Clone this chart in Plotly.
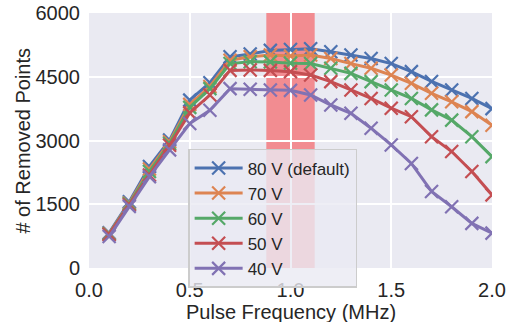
import plotly.graph_objects as go

freq = [0.1, 0.2, 0.3, 0.4, 0.5, 0.6, 0.7, 0.8, 0.9, 1.0,
        1.1, 1.2, 1.3, 1.4, 1.5, 1.6, 1.7, 1.8, 1.9, 2.0]

v80 = [830, 1560, 2390, 3010, 3950, 4360, 4970, 5035, 5120, 5140,
       5160, 5090, 5010, 4930, 4810, 4620, 4390, 4190, 3990, 3750]
v70 = [810, 1530, 2330, 2970, 3850, 4270, 4890, 4970, 5010, 4990,
       5010, 4930, 4810, 4700, 4540, 4345, 4110, 3910, 3680, 3360]
v60 = [800, 1510, 2270, 2930, 3780, 4220, 4810, 4855, 4850, 4820,
       4810, 4700, 4580, 4385, 4190, 3990, 3720, 3480, 3090, 2620]
v50 = [790, 1490, 2190, 2890, 3650, 4070, 4650, 4660, 4650, 4620,
       4540, 4385, 4190, 3990, 3760, 3560, 3090, 2740, 2270, 1720]
v40 = [740, 1450, 2150, 2780, 3400, 3710, 4220, 4205, 4190, 4180,
       4070, 3835, 3640, 3290, 2895, 2460, 1800, 1440, 1050, 820]

series_names = ["80 V (default)", "70 V", "60 V", "50 V", "40 V"]
series_values = [v80, v70, v60, v50, v40]
colors = ["#4C72B0", "#DD8452", "#55A868", "#C44E52", "#8172B3"]

band = [0.88, 1.12]
x_ticks = [0.0, 0.5, 1.0, 1.5, 2.0]
y_ticks = [0, 1500, 3000, 4500, 6000]
x_title = "Pulse Frequency (MHz)"
y_title = "# of Removed Points"

fig = go.Figure()
for name, vals, col in zip(series_names, series_values, colors):
    fig.add_trace(go.Scatter(
        x=freq, y=vals, name=name, mode="lines+markers",
        line=dict(color=col, width=3),
        marker=dict(symbol="x-thin", size=13, color=col,
                    line=dict(color=col, width=2.2)),
    ))

fig.add_shape(type="rect", xref="x", yref="paper", x0=band[0], x1=band[1],
              y0=0, y1=1, fillcolor="rgba(255,0,0,0.4)", line_width=0,
              layer="between")

font_family = "Liberation Sans, Arial, sans-serif"
fig.update_layout(
    width=519, height=322,
    margin=dict(l=89, r=27, t=13, b=54, autoexpand=False),
    paper_bgcolor="white", plot_bgcolor="#EAEAF2",
    font=dict(family=font_family, size=20, color="#262626"),
    showlegend=True,
    legend=dict(x=0.246, y=0.467, xanchor="left", yanchor="top",
                bgcolor="rgba(234,234,242,0.8)", bordercolor="#CCCCCC",
                borderwidth=1.5, font=dict(size=17), tracegroupgap=0,
                itemwidth=48),
    annotations=[
        dict(text=x_title, xref="paper", yref="paper", x=0.5, y=-0.172,
             xanchor="center", yanchor="middle", showarrow=False,
             font=dict(size=20)),
        dict(text=y_title, xref="paper", yref="paper", x=-0.166, y=0.5,
             xanchor="center", yanchor="middle", showarrow=False,
             textangle=-90, font=dict(size=20)),
    ],
)
fig.update_xaxes(range=[0, 2], tickvals=x_ticks, tickformat=".1f",
                 showgrid=True, gridcolor="white", gridwidth=2,
                 zeroline=False, showline=False, ticks="",
                 automargin=False, ticklabelstandoff=8)
fig.update_yaxes(range=[0, 6000], tickvals=y_ticks,
                 showgrid=True, gridcolor="white", gridwidth=2,
                 zeroline=False, showline=False, ticks="",
                 automargin=False, ticklabelstandoff=8)

fig.write_html("out.html", config={"displayModeBar": False})

# remove the default page margin so the figure sits at the window's corner
with open("out.html", "r", encoding="utf-8") as f:
    html = f.read()
html = html.replace("<head>", "<head><style>html,body{margin:0;padding:0;overflow:hidden;}</style>", 1)
with open("out.html", "w", encoding="utf-8") as f:
    f.write(html)
